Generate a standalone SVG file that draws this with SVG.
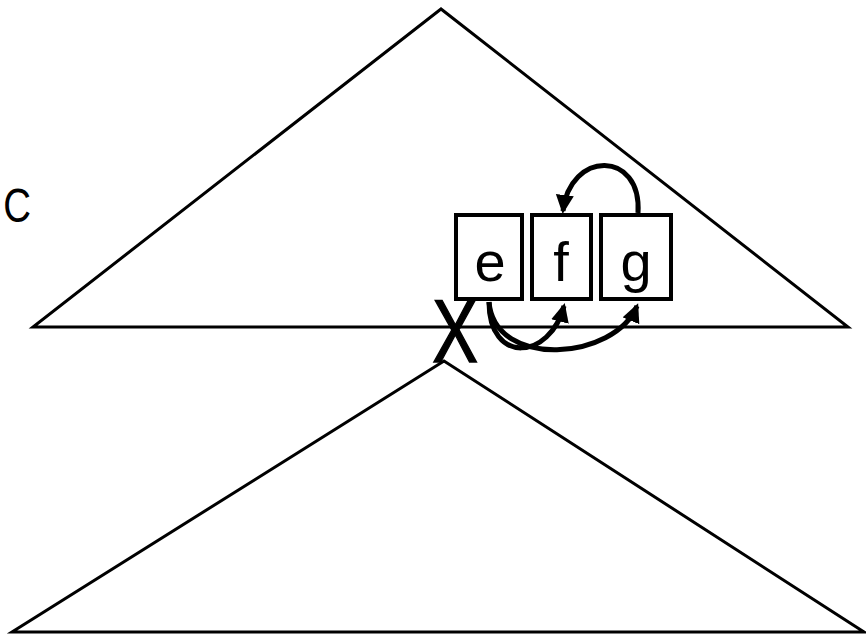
<svg xmlns="http://www.w3.org/2000/svg" width="866" height="635" viewBox="0 0 866 635">
<style>
.tri{fill:none;stroke:#000;stroke-width:3;stroke-linejoin:miter}
.box{fill:#fff;stroke:#000;stroke-width:4}
.lbl{font-family:"Liberation Sans",Arial,sans-serif;fill:#000;text-anchor:middle}
.arr{fill:none;stroke:#000;stroke-width:5;marker-end:url(#ah)}
</style>
<defs>
<marker id="ah" markerUnits="userSpaceOnUse" markerWidth="22" markerHeight="20" refX="16" refY="9" orient="auto">
<path d="M0,0 L19,9 L0,18 Z" fill="#000"/>
</marker>
</defs>
<g id="tree-top"><polygon class="tri" points="441,9 33,327 848,327"/></g>
<g id="tree-bottom"><polygon class="tri" points="444,361 12,632 864,632"/></g>
<g id="label-c"><text class="lbl" x="17" y="222" font-size="48" transform="translate(17 0) scale(0.8 1) translate(-17 0)">C</text></g>
<g id="label-x"><text class="lbl" x="455" y="362" font-size="89" stroke="#000" stroke-width="1.5" transform="translate(455 0) scale(0.77 1) translate(-455 0)">X</text></g>
<g id="node-e"><rect class="box" x="456" y="215" width="66" height="84"/><text class="lbl" x="490" y="281" font-size="56">e</text></g>
<g id="node-f"><rect class="box" x="532" y="215" width="59" height="84"/><text class="lbl" x="561" y="281" font-size="56">f</text></g>
<g id="node-g"><rect class="box" x="601" y="215" width="70" height="84"/><text class="lbl" x="636" y="281" font-size="56">g</text></g>
<g id="connectors">
<path class="arr" d="M638,213 C642,150 570,150 563,211"/>
<path class="arr" d="M489,302 C489,365 550,360 564,306"/>
<path class="arr" d="M489,302 C495,370 615,360 637,306"/>
</g>
</svg>
